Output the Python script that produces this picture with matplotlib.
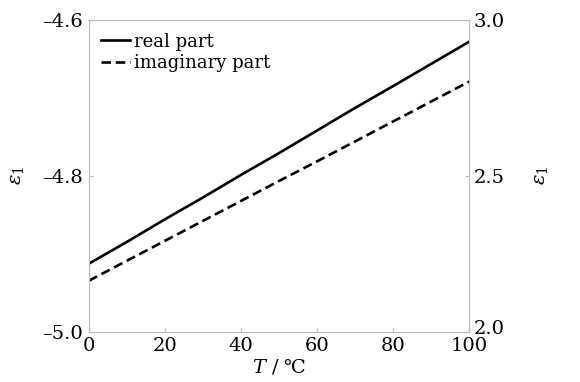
import matplotlib.pyplot as plt
import matplotlib.transforms as mtrans

plt.rcParams['font.family'] = ['DejaVu Serif']
plt.rcParams['mathtext.fontset'] = 'dejavuserif'

temps = [0, 10, 20, 30, 40, 50, 60, 70, 80, 100]
real_part = [-4.913, -4.885, -4.856, -4.828, -4.799, -4.771, -4.742, -4.713, -4.685, -4.628]
temps_im = [0, 10, 20, 30, 40, 50, 60, 70, 80, 100]
imag_part = [2.163, 2.227, 2.291, 2.355, 2.419, 2.483, 2.546, 2.610, 2.674, 2.802]

fig = plt.figure(figsize=(5.8, 3.82), dpi=100)
ax = fig.add_axes([0.153, 0.132, 0.656, 0.816])
ax2 = ax.twinx()

l1, = ax.plot(temps, real_part, color='black', lw=1.9, ls='-', label='real part')
l2, = ax2.plot(temps_im, imag_part, color='black', lw=1.9, ls=(0, (3.6, 1.8)), label='imaginary part')

ax.set_xlim(0, 100)
ax.set_ylim(-5.0, -4.6)
ax2.set_ylim(2.0, 3.0)
ax.set_xticks([0, 20, 40, 60, 80, 100])
ax.set_yticks([-5.0, -4.8, -4.6])
ax.set_yticklabels(['\u20135.0', '\u20134.8', '\u20134.6'])
ax2.set_yticks([2.0, 2.5, 3.0])
ax2.set_yticklabels(['2.0', '2.5', '3.0'])

spine_col = '#b8b8c8'
for a in (ax, ax2):
    for s in a.spines.values():
        s.set_color(spine_col)
        s.set_linewidth(0.8)
    a.tick_params(direction='in', length=3, color=spine_col, labelsize=14, pad=4)
ax2.tick_params(pad=3)

# nudge "2.0" up a little so it clears the "100" below it
lab = ax2.get_yticklabels()[0]
lab.set_transform(lab.get_transform() + mtrans.ScaledTranslation(0, 3 / 72, fig.dpi_scale_trans))

ax.set_xlabel('$T$ / \u2103', fontsize=14, labelpad=1)
ax.set_ylabel(r'$\varepsilon_1$', fontsize=14, labelpad=12)
ax2.set_ylabel(r'$\varepsilon_1$', fontsize=14, labelpad=20)

ax.legend(handles=[l1, l2], loc='upper left', frameon=False, fontsize=13,
          handlelength=1.6, handletextpad=0.2, borderaxespad=0.3, labelspacing=0.2)

fig.savefig('out.png', dpi=100)
